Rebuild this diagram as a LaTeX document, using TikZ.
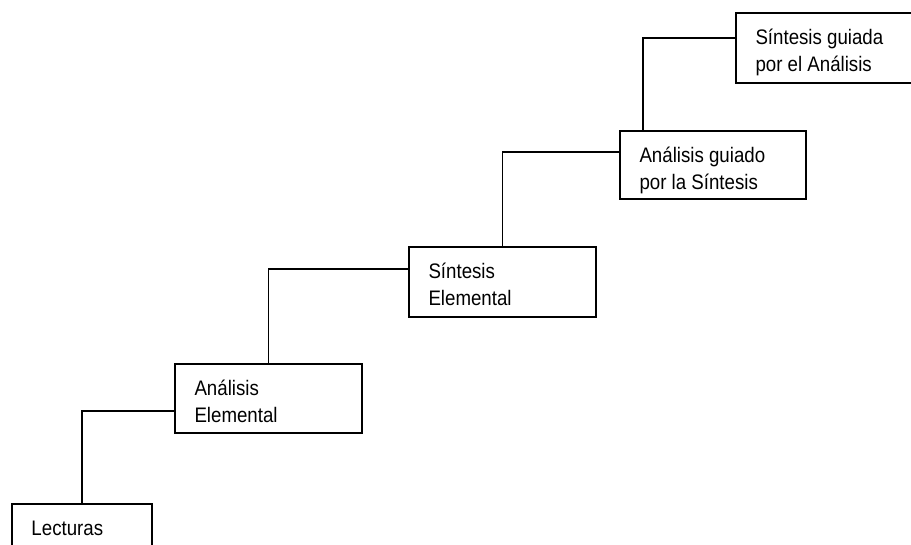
\documentclass[tikz,border=0pt]{standalone}
\usepackage{fontspec}
\setmainfont{Liberation Sans}[FakeStretch=0.89]
\newcommand{\stepcontent}[3]{\parbox[t][#2][t]{#1}{\leftskip=19.5pt\parindent=0pt\rule{0pt}{31.5pt}#3}}
\begin{document}
\begin{tikzpicture}[x=1pt,y=-1pt,
  stepbox/.style={draw,line width=1.5pt,inner sep=0pt,outer sep=0pt,anchor=north west,
    font=\fontsize{21pt}{26.5pt}\selectfont},
  link/.style={line width=1.5pt}]
\useasboundingbox (0,0) rectangle (911,544);
\node[stepbox] (lect) at (12,504) {\stepcontent{140pt}{80pt}{Lecturas}};
\node[stepbox] (anel) at (175,364) {\stepcontent{187pt}{69pt}{Análisis\\Elemental}};
\node[stepbox] (sint) at (409,247) {\stepcontent{187pt}{70pt}{Síntesis\\Elemental}};
\node[stepbox] (angu) at (620,131) {\stepcontent{186pt}{68pt}{Análisis guiado\\por la Síntesis}};
\node[stepbox] (sigu) at (736,13) {\stepcontent{200pt}{70pt}{Síntesis guiada\\por el Análisis}};
\draw[link] (lect.north) |- ([yshift=-47pt]anel.north west);
\draw[link] (anel.north) |- ([yshift=-22pt]sint.north west);
\draw[link] (sint.north) |- ([yshift=-21pt]angu.north west);
\draw[link] ([xshift=23pt]angu.north west) |- ([yshift=-25pt]sigu.north west);
\end{tikzpicture}
\end{document}
